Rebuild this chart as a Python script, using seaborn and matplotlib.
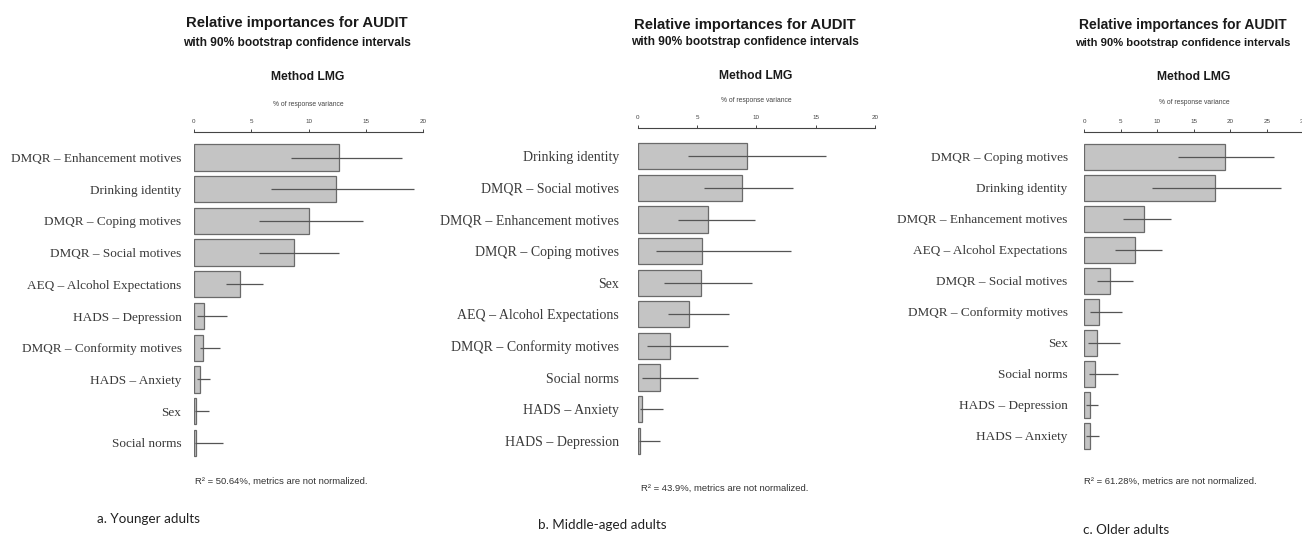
import numpy as np
import pandas as pd
import seaborn as sns
import matplotlib.pyplot as plt

W, H = 1302, 539

# a. younger adults
labels_a = ['DMQR – Enhancement motives', 'Drinking identity', 'DMQR – Coping motives',
            'DMQR – Social motives', 'AEQ – Alcohol Expectations', 'HADS – Depression',
            'DMQR – Conformity motives', 'HADS – Anxiety', 'Sex', 'Social norms']
lmg_a = [12.7, 12.4, 10.0, 8.7, 4.0, 0.9, 0.75, 0.5, 0.2, 0.2]
lo_a = [8.5, 6.7, 5.7, 5.7, 2.8, 0.25, 0.5, 0.3, 0.05, 0.05]
hi_a = [18.2, 19.2, 14.8, 12.7, 6.0, 2.9, 2.3, 1.4, 1.3, 2.5]

# b. middle-aged adults
labels_b = ['Drinking identity', 'DMQR – Social motives', 'DMQR – Enhancement motives',
            'DMQR – Coping motives', 'Sex', 'AEQ – Alcohol Expectations',
            'DMQR – Conformity motives', 'Social norms', 'HADS – Anxiety', 'HADS – Depression']
lmg_b = [9.2, 8.8, 5.9, 5.45, 5.3, 4.3, 2.7, 1.85, 0.4, 0.2]
lo_b = [4.2, 5.6, 3.4, 1.5, 2.2, 2.55, 0.8, 0.35, 0.2, 0.1]
hi_b = [15.9, 13.1, 9.9, 12.9, 9.6, 7.7, 7.6, 5.1, 2.1, 1.9]

# c. older adults
labels_c = ['DMQR – Coping motives', 'Drinking identity', 'DMQR – Enhancement motives',
            'AEQ – Alcohol Expectations', 'DMQR – Social motives', 'DMQR – Conformity motives',
            'Sex', 'Social norms', 'HADS – Depression', 'HADS – Anxiety']
lmg_c = [19.3, 17.9, 8.2, 6.9, 3.5, 2.0, 1.75, 1.4, 0.8, 0.8]
lo_c = [12.9, 9.3, 5.3, 4.2, 1.75, 0.8, 0.45, 0.6, 0.3, 0.3]
hi_c = [26.0, 26.9, 11.9, 10.6, 6.7, 5.1, 4.9, 4.6, 1.9, 2.0]

r2_texts = ['R² = 50.64%, metrics are not normalized.',
            'R² = 43.9%, metrics are not normalized.',
            'R² = 61.28%, metrics are not normalized.']
captions = ['a. Younger adults', 'b. Middle-aged adults', 'c. Older adults']

sns.set_theme(style='white')
plt.rcParams['font.family'] = ['Liberation Sans', 'DejaVu Sans']

fig = plt.figure(figsize=(W / 100, H / 100), dpi=100)
fig.patch.set_facecolor('white')


def ftext(x, y, s, **kw):
    # place text using pixel coordinates of the reference
    fig.text(x / W, 1 - y / H, s, **kw)


# pixel layout of each panel: x of zero, px per unit, axis max, axis line y, first bar y, bar spacing
layout = [
    dict(x0=194, pxu=11.45, xmax=20, axis_y=132, c0=157.5, sp=31.7, pad=9, lab=9.5,
         title_x=297, title_y=23, sub_y=43, tsz=10.7, ssz=8.6, meth_x=308, meth_y=77, var_y=104,
         r2_x=281, r2_y=481, cap_x=97, cap_y=519),
    dict(x0=637.7, pxu=11.87, xmax=20, axis_y=128, c0=156.3, sp=31.6, pad=13.5, lab=10,
         title_x=745, title_y=25, sub_y=42, tsz=10.7, ssz=8.6, meth_x=756, meth_y=76, var_y=100,
         r2_x=725, r2_y=488, cap_x=538, cap_y=525),
    dict(x0=1084.3, pxu=7.3, xmax=30, axis_y=132, c0=156.7, sp=31.0, pad=12, lab=9.5,
         title_x=1183, title_y=25, sub_y=43, tsz=10.0, ssz=8.1, meth_x=1194, meth_y=77, var_y=103,
         r2_x=1170, r2_y=481, cap_x=1083, cap_y=530),
]
panels = [(labels_a, lmg_a, lo_a, hi_a), (labels_b, lmg_b, lo_b, hi_b), (labels_c, lmg_c, lo_c, hi_c)]

bottom = 468
for (labels, vals, lo, hi), L, r2, cap in zip(panels, layout, r2_texts, captions):
    ax = fig.add_axes([L['x0'] / W, 1 - bottom / H, L['xmax'] * L['pxu'] / W,
                       (bottom - L['axis_y']) / H])
    ax.patch.set_alpha(0)
    df = pd.DataFrame({'label': labels, 'lmg': vals})
    sns.barplot(data=df, x='lmg', y='label', orient='h', color='#c4c4c4', saturation=1,
                edgecolor='#6a6a6a', linewidth=0.9, width=0.83, ax=ax)
    ax.hlines(np.arange(len(labels)), lo, hi, color='#555555', lw=0.9, zorder=3)
    ax.set_xlim(0, L['xmax'])
    ax.set_ylim((bottom - L['c0']) / L['sp'], (L['axis_y'] - L['c0']) / L['sp'])
    ax.set_xlabel('')
    ax.set_ylabel('')
    ax.xaxis.tick_top()
    ax.set_xticks(np.arange(0, L['xmax'] + 1, 5))
    ax.tick_params(axis='x', labelsize=4.5, length=2.5, width=0.7, pad=3,
                   colors='#444444', direction='out', top=True, bottom=False)
    ax.tick_params(axis='y', length=0, pad=L['pad'], labelsize=L['lab'], labelcolor='#3a3a3a')
    for t in ax.get_yticklabels():
        t.set_family('Liberation Serif')
    for s in ['left', 'right', 'bottom']:
        ax.spines[s].set_visible(False)
    ax.spines['top'].set_color('#444444')
    ax.spines['top'].set_linewidth(0.8)

    ftext(L['title_x'], L['title_y'], 'Relative importances for AUDIT', ha='center', va='center',
          fontsize=L['tsz'], fontweight='bold', color='#1a1a1a')
    ftext(L['title_x'], L['sub_y'], 'with 90% bootstrap confidence intervals', ha='center',
          va='center', fontsize=L['ssz'], fontweight='bold', color='#1a1a1a')
    ftext(L['meth_x'], L['meth_y'], 'Method LMG', ha='center', va='center', fontsize=8.7,
          fontweight='bold', color='#1a1a1a')
    ftext(L['meth_x'], L['var_y'], '% of response variance', ha='center', va='center',
          fontsize=4.9, color='#444444')
    ftext(L['r2_x'], L['r2_y'], r2, ha='center', va='center', fontsize=6.8, color='#333333')
    ftext(L['cap_x'], L['cap_y'], cap, ha='left', va='center', fontsize=9.7,
          family='Lato', color='#222222')

fig.savefig('out.png', dpi=100, facecolor='white')
